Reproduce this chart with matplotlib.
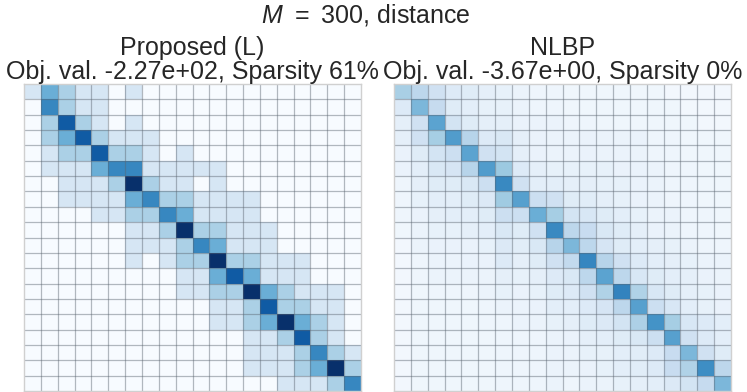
import numpy as np
import matplotlib
matplotlib.use("Agg")
import matplotlib.pyplot as plt

plt.rcParams['font.family'] = ['Liberation Sans', 'DejaVu Sans']
plt.rcParams['mathtext.fontset'] = 'custom'
plt.rcParams['mathtext.it'] = 'Liberation Sans:italic'
plt.rcParams['mathtext.rm'] = 'Liberation Sans'

suptitle_text = "$M\\:\\,=\\:\\,300$, distance"
titles = ["Proposed (L)\nObj. val. -2.27e+02, Sparsity 61%",
          "NLBP\nObj. val. -3.67e+00, Sparsity 0%"]

# Left matrix: discrete intensity levels (0..6)
proposed = [
    [1, 3, 2, 1, 1, 0, 1, 0, 0, 0, 0, 0, 0, 0, 0, 0, 0, 0, 0, 0],
    [0, 4, 2, 1, 1, 0, 0, 0, 0, 0, 0, 0, 0, 0, 0, 0, 0, 0, 0, 0],
    [0, 2, 5, 2, 1, 0, 1, 0, 0, 0, 0, 0, 0, 0, 0, 0, 0, 0, 0, 0],
    [0, 2, 3, 5, 2, 1, 1, 1, 0, 0, 0, 0, 0, 0, 0, 0, 0, 0, 0, 0],
    [0, 1, 2, 2, 5, 2, 2, 1, 0, 1, 0, 0, 0, 0, 0, 0, 0, 0, 0, 0],
    [0, 1, 1, 1, 3, 4, 4, 1, 1, 1, 1, 1, 0, 0, 0, 0, 0, 0, 0, 0],
    [0, 0, 1, 1, 1, 2, 6, 2, 1, 1, 0, 1, 0, 0, 0, 0, 0, 0, 0, 0],
    [0, 0, 1, 1, 1, 1, 3, 4, 2, 2, 1, 1, 1, 1, 0, 0, 0, 0, 0, 0],
    [0, 0, 0, 0, 1, 1, 2, 2, 4, 3, 1, 1, 1, 1, 0, 0, 0, 0, 0, 0],
    [0, 0, 0, 0, 0, 0, 1, 1, 2, 6, 2, 2, 1, 1, 1, 0, 0, 0, 0, 0],
    [0, 0, 0, 0, 0, 0, 1, 1, 1, 2, 4, 3, 1, 1, 1, 0, 0, 0, 0, 0],
    [0, 0, 0, 0, 0, 0, 1, 0, 1, 2, 2, 6, 2, 2, 1, 1, 1, 0, 0, 0],
    [0, 0, 0, 0, 0, 0, 0, 0, 0, 1, 1, 3, 5, 3, 1, 1, 1, 0, 0, 0],
    [0, 0, 0, 0, 0, 0, 0, 0, 0, 1, 1, 2, 2, 6, 3, 2, 1, 1, 1, 0],
    [0, 0, 0, 0, 0, 0, 0, 0, 0, 0, 0, 1, 1, 2, 5, 2, 2, 1, 1, 0],
    [0, 0, 0, 0, 0, 0, 0, 0, 0, 0, 0, 1, 1, 2, 3, 6, 3, 2, 1, 0],
    [0, 0, 0, 0, 0, 0, 0, 0, 0, 0, 0, 0, 0, 1, 1, 2, 5, 2, 1, 0],
    [0, 0, 0, 0, 0, 0, 0, 0, 0, 0, 0, 0, 0, 1, 1, 1, 2, 4, 2, 1],
    [0, 0, 0, 0, 0, 0, 0, 0, 0, 0, 0, 0, 0, 1, 1, 1, 2, 3, 6, 2],
    [0, 0, 0, 0, 0, 0, 0, 0, 0, 0, 0, 0, 0, 0, 0, 1, 1, 1, 2, 4],
]

# Right matrix: dense values (fraction of colour scale)
nlbp = [
    [0.34, 0.28, 0.20, 0.13, 0.12, 0.09, 0.08, 0.06, 0.05, 0.05, 0.04, 0.04, 0.04, 0.04, 0.04, 0.04, 0.03, 0.03, 0.03, 0.03],
    [0.13, 0.46, 0.25, 0.12, 0.10, 0.08, 0.08, 0.06, 0.05, 0.05, 0.04, 0.04, 0.04, 0.04, 0.04, 0.04, 0.04, 0.03, 0.03, 0.03],
    [0.09, 0.20, 0.55, 0.18, 0.12, 0.09, 0.09, 0.07, 0.06, 0.06, 0.05, 0.05, 0.04, 0.04, 0.04, 0.04, 0.04, 0.04, 0.03, 0.03],
    [0.09, 0.20, 0.35, 0.58, 0.30, 0.13, 0.15, 0.09, 0.07, 0.06, 0.06, 0.07, 0.06, 0.06, 0.07, 0.05, 0.05, 0.04, 0.04, 0.04],
    [0.07, 0.12, 0.18, 0.22, 0.55, 0.20, 0.18, 0.09, 0.07, 0.06, 0.06, 0.07, 0.06, 0.06, 0.06, 0.05, 0.05, 0.04, 0.04, 0.04],
    [0.07, 0.10, 0.15, 0.17, 0.30, 0.58, 0.38, 0.13, 0.09, 0.08, 0.08, 0.08, 0.08, 0.07, 0.07, 0.06, 0.05, 0.05, 0.04, 0.04],
    [0.05, 0.09, 0.12, 0.12, 0.15, 0.22, 0.66, 0.20, 0.10, 0.10, 0.09, 0.09, 0.08, 0.08, 0.07, 0.06, 0.05, 0.05, 0.04, 0.04],
    [0.05, 0.08, 0.10, 0.10, 0.12, 0.14, 0.37, 0.56, 0.22, 0.20, 0.12, 0.11, 0.09, 0.08, 0.07, 0.06, 0.05, 0.05, 0.04, 0.04],
    [0.05, 0.07, 0.09, 0.10, 0.10, 0.12, 0.22, 0.22, 0.50, 0.35, 0.18, 0.16, 0.12, 0.10, 0.08, 0.06, 0.06, 0.05, 0.05, 0.04],
    [0.04, 0.06, 0.08, 0.08, 0.09, 0.10, 0.15, 0.12, 0.20, 0.66, 0.28, 0.24, 0.15, 0.12, 0.09, 0.07, 0.06, 0.05, 0.05, 0.04],
    [0.03, 0.06, 0.07, 0.07, 0.07, 0.08, 0.14, 0.11, 0.15, 0.30, 0.46, 0.28, 0.17, 0.12, 0.10, 0.09, 0.08, 0.06, 0.05, 0.05],
    [0.03, 0.05, 0.06, 0.06, 0.07, 0.07, 0.13, 0.09, 0.12, 0.20, 0.26, 0.67, 0.30, 0.20, 0.13, 0.10, 0.09, 0.08, 0.06, 0.06],
    [0.03, 0.05, 0.06, 0.06, 0.06, 0.06, 0.09, 0.08, 0.09, 0.13, 0.15, 0.28, 0.55, 0.28, 0.16, 0.12, 0.10, 0.09, 0.07, 0.06],
    [0.03, 0.04, 0.05, 0.05, 0.05, 0.06, 0.08, 0.07, 0.08, 0.12, 0.13, 0.20, 0.32, 0.68, 0.32, 0.16, 0.12, 0.09, 0.08, 0.07],
    [0.03, 0.04, 0.04, 0.04, 0.04, 0.05, 0.06, 0.06, 0.07, 0.10, 0.10, 0.13, 0.17, 0.28, 0.56, 0.22, 0.16, 0.10, 0.08, 0.07],
    [0.03, 0.04, 0.04, 0.04, 0.04, 0.05, 0.05, 0.06, 0.06, 0.08, 0.09, 0.12, 0.14, 0.18, 0.33, 0.62, 0.35, 0.16, 0.13, 0.10],
    [0.03, 0.04, 0.04, 0.04, 0.04, 0.04, 0.05, 0.05, 0.05, 0.06, 0.07, 0.09, 0.10, 0.12, 0.15, 0.22, 0.56, 0.20, 0.13, 0.10],
    [0.03, 0.04, 0.04, 0.04, 0.04, 0.04, 0.05, 0.05, 0.05, 0.06, 0.06, 0.08, 0.08, 0.10, 0.11, 0.13, 0.24, 0.46, 0.20, 0.12],
    [0.03, 0.04, 0.04, 0.04, 0.04, 0.04, 0.05, 0.05, 0.05, 0.06, 0.06, 0.07, 0.08, 0.10, 0.11, 0.13, 0.24, 0.32, 0.64, 0.28],
    [0.03, 0.04, 0.04, 0.04, 0.04, 0.04, 0.05, 0.05, 0.05, 0.06, 0.05, 0.06, 0.06, 0.08, 0.09, 0.10, 0.14, 0.18, 0.25, 0.46],
]

W, H = 747, 392
fig = plt.figure(figsize=(W / 100, H / 100), dpi=100)
text_color = '#262626'

axes_px = [(24, 84, 337, 307), (394, 84, 337, 307)]
mats = [(np.array(proposed, float), 6.0), (np.array(nlbp, float), 1.0)]

for (x0, y0, w, h), (m, vmax), title in zip(axes_px, mats, titles):
    ax = fig.add_axes([x0 / W, 1 - (y0 + h) / H, w / W, h / H])
    nr, nc = m.shape
    ax.pcolormesh(m, cmap='Blues', vmin=0, vmax=vmax, linewidth=0)
    ax.vlines(np.arange(1, nc), 0, nr, colors='#5a6470', alpha=0.45, linewidth=0.9)
    ax.hlines(np.arange(1, nr), 0, nc, colors='#5a6470', alpha=0.45, linewidth=0.9)
    ax.set_xlim(0, nc)
    ax.set_ylim(nr, 0)
    ax.set_xticks([])
    ax.set_yticks([])
    for s in ax.spines.values():
        s.set_color('#d0d0d0')
        s.set_linewidth(1.0)
    ax.set_title(title, fontsize=18, color=text_color, pad=3, linespacing=1.0)

fig.text(366 / W, 1 - 23 / H, suptitle_text, ha='center', va='baseline',
         fontsize=18, color=text_color)

fig.savefig('out.png', dpi=100)
